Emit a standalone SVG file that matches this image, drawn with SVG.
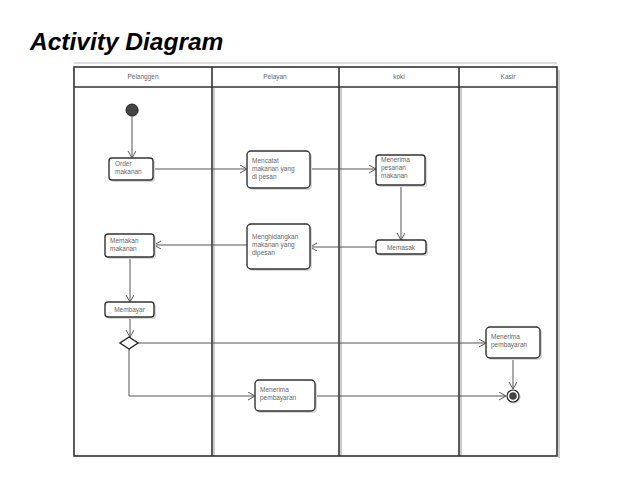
<svg xmlns="http://www.w3.org/2000/svg" width="638" height="479" viewBox="0 0 638 479">
<style>
.lane{fill:none;stroke:#333;stroke-width:1.6}
.sh{fill:none;stroke:#ccc;stroke-width:2}
.box{fill:#fff;stroke:#333;stroke-width:1.4}
.bsh{fill:#d8d8d8;stroke:none}
.t{font-family:"Liberation Sans",Arial,sans-serif;font-size:6.5px;fill:#666}
.h{font-family:"Liberation Sans",Arial,sans-serif;font-size:6.5px;fill:#666;text-anchor:middle}
.c{fill:none;stroke:#555;stroke-width:1}
</style>
<defs>
<marker id="a" markerWidth="10" markerHeight="10" refX="8" refY="4" orient="auto" markerUnits="userSpaceOnUse">
<polyline points="1,0 8,4 1,8" fill="none" stroke="#555" stroke-width="1"/>
</marker>
</defs>
<rect width="638" height="479" fill="#fff"/>
<text x="30" y="50" font-family="'Liberation Sans',Arial,sans-serif" font-size="24.5" font-weight="bold" font-style="italic" fill="#000">Activity Diagram</text>
<g id="swimlanes">
<line x1="74" y1="63" x2="557" y2="63" stroke="#bbb" stroke-width="1"/>
<line class="sh" x1="214" y1="88" x2="214" y2="456"/>
<line class="sh" x1="341" y1="88" x2="341" y2="456"/>
<line class="sh" x1="461" y1="88" x2="461" y2="456"/>
<line class="sh" x1="559" y1="70" x2="559" y2="458"/>
<rect class="lane" x="74" y="67" width="483" height="389"/>
<line class="lane" x1="74" y1="87" x2="557" y2="87"/>
<line class="lane" x1="212" y1="67" x2="212" y2="456"/>
<line class="lane" x1="339" y1="67" x2="339" y2="456"/>
<line class="lane" x1="459" y1="67" x2="459" y2="456"/>
<text class="h" x="143" y="79">Pelanggen</text>
<text class="h" x="275" y="79">Pelayan</text>
<text class="h" x="399" y="79">koki</text>
<text class="h" x="508" y="79">Kasir</text>
</g>
<g id="connectors">
<line class="c" x1="132" y1="116" x2="132" y2="158" marker-end="url(#a)"/>
<line class="c" x1="153" y1="169" x2="247" y2="169" marker-end="url(#a)"/>
<line class="c" x1="310" y1="169" x2="376" y2="169" marker-end="url(#a)"/>
<line class="c" x1="401" y1="185" x2="401" y2="240" marker-end="url(#a)"/>
<line class="c" x1="376" y1="247" x2="310" y2="247" marker-end="url(#a)"/>
<line class="c" x1="247" y1="245" x2="154" y2="245" marker-end="url(#a)"/>
<line class="c" x1="130" y1="257" x2="130" y2="302" marker-end="url(#a)"/>
<line class="c" x1="130" y1="317" x2="130" y2="337" marker-end="url(#a)"/>
<line class="c" x1="138" y1="343" x2="486" y2="343" marker-end="url(#a)"/>
<polyline class="c" points="129,349 129,396 255,396" marker-end="url(#a)"/>
<line class="c" x1="315" y1="396" x2="506" y2="396" marker-end="url(#a)"/>
<line class="c" x1="513" y1="358" x2="513" y2="389" marker-end="url(#a)"/>
</g>
<g id="start">
<circle cx="133" cy="111" r="6" fill="#ccc"/>
<circle cx="132" cy="110" r="6" fill="#444" stroke="#222" stroke-width="1"/>
</g>
<g id="order">
<rect class="bsh" x="111" y="160" width="44" height="22" rx="3"/>
<rect class="box" x="109" y="158" width="44" height="22" rx="3"/>
<text class="t" x="115" y="166">Order</text>
<text class="t" x="115" y="174">makanan</text>
</g>
<g id="mencatat">
<rect class="bsh" x="249" y="153" width="63" height="37" rx="4"/>
<rect class="box" x="247" y="151" width="63" height="37" rx="4"/>
<text class="t" x="252" y="163">Mencatat</text>
<text class="t" x="252" y="171">makanan yang</text>
<text class="t" x="252" y="179">di pesan</text>
</g>
<g id="menerima-pesanan">
<rect class="bsh" x="378" y="157" width="49" height="30" rx="3"/>
<rect class="box" x="376" y="155" width="49" height="30" rx="3"/>
<text class="t" x="381" y="162">Menerima</text>
<text class="t" x="381" y="170">pesanan</text>
<text class="t" x="381" y="178">makanan</text>
</g>
<g id="memasak">
<rect class="bsh" x="378" y="242" width="50" height="14" rx="3"/>
<rect class="box" x="376" y="240" width="50" height="14" rx="3"/>
<text class="h" x="401" y="249.5">Memasak</text>
</g>
<g id="menghidangkan">
<rect class="bsh" x="249" y="226" width="63" height="45" rx="4"/>
<rect class="box" x="247" y="224" width="63" height="45" rx="4"/>
<text class="t" x="252" y="239">Menghidangkan</text>
<text class="t" x="252" y="247">makanan yang</text>
<text class="t" x="252" y="255">dipesan</text>
</g>
<g id="memakan">
<rect class="bsh" x="107" y="236" width="49" height="23" rx="3"/>
<rect class="box" x="105" y="234" width="49" height="23" rx="3"/>
<text class="t" x="110" y="243">Memakan</text>
<text class="t" x="110" y="251">makanan</text>
</g>
<g id="membayar">
<rect class="bsh" x="107" y="304" width="49" height="15" rx="3"/>
<rect class="box" x="105" y="302" width="49" height="15" rx="3"/>
<text class="h" x="129.5" y="312">Membayar</text>
</g>
<g id="decision">
<polygon points="129,337 138,343 129,349 120,343" fill="#fff" stroke="#222" stroke-width="1.4"/>
</g>
<g id="menerima-pembayaran-pelayan">
<rect class="bsh" x="257" y="382" width="60" height="31" rx="4"/>
<rect class="box" x="255" y="380" width="60" height="31" rx="4"/>
<text class="t" x="260" y="392">Menerima</text>
<text class="t" x="260" y="400">pembayaran</text>
</g>
<g id="menerima-pembayaran-kasir">
<rect class="bsh" x="488" y="329" width="54" height="31" rx="4"/>
<rect class="box" x="486" y="327" width="54" height="31" rx="4"/>
<text class="t" x="491" y="339">Menerima</text>
<text class="t" x="491" y="347">pembayaran</text>
</g>
<g id="end">
<circle cx="514" cy="397" r="6.5" fill="#ccc"/>
<circle cx="513" cy="396" r="6" fill="#fff" stroke="#222" stroke-width="1.2"/>
<circle cx="513" cy="396" r="3.8" fill="#444"/>
</g>
</svg>
